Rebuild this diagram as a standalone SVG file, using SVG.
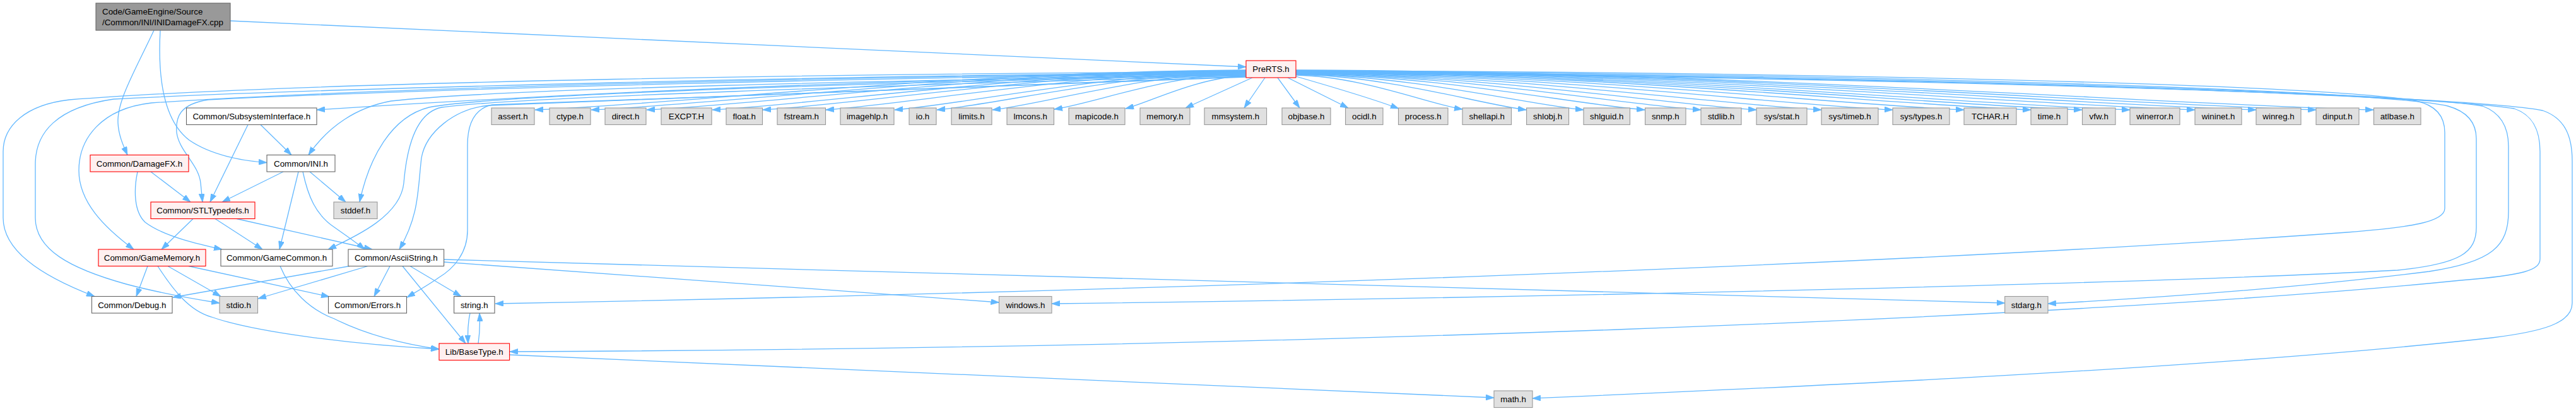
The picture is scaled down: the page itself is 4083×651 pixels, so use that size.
<svg xmlns="http://www.w3.org/2000/svg" width="4083" height="651" viewBox="0 0 4083 651">
<style>
.e{fill:none;stroke:#63B8FF;stroke-width:1.3;marker-end:url(#a)}
rect{stroke-width:1.1}
.w{fill:#FFFFFF;stroke:#666666}
.g{fill:#E0E0E0;stroke:#999999}
.r{fill:#FFF0F0;stroke:#FF0000}
.rt{fill:#999999;stroke:#666666}
text{font-family:"Liberation Sans",Arial,Helvetica,sans-serif;font-size:13.33px;fill:#000;text-anchor:middle}
text.l{text-anchor:start}
</style>
<defs>
<marker id="a" viewBox="0 0 13 9" refX="13" refY="4.5" markerWidth="13" markerHeight="9" markerUnits="userSpaceOnUse" orient="auto">
<path d="M0,0 L13,4.5 L0,9 z" fill="#63B8FF" stroke="#63B8FF" stroke-width="0.8"/>
</marker>
</defs>
<rect width="4083" height="651" fill="#FFFFFF"/>
<g id="edges">
<path class="e" d="M365,33 L1975,106"/>
<path class="e" d="M244,48 C215,110 185,160 187,195 C188,215 196,232 202,245.5"/>
<path class="e" d="M254,48 C250,120 258,190 300,222 C335,246 385,255 423,257.5"/>
<path class="e" d="M393,197.5 L333,320"/>
<path class="e" d="M413,197.5 L462,245.5"/>
<path class="e" d="M449,272 L352,320"/>
<path class="e" d="M473,272 L443,395"/>
<path class="e" d="M480,272 C488,310 500,340 530,360 C550,374 566,385 578,395"/>
<path class="e" d="M491,272 L548,320"/>
<path class="e" d="M239,272 L302,320"/>
<path class="e" d="M218,272 C212,300 212,335 230,352 C260,375 320,388 352,395"/>
<path class="e" d="M306,346.5 L256,395"/>
<path class="e" d="M341,346.5 L416,395"/>
<path class="e" d="M375,346.5 L590,395"/>
<path class="e" d="M234,421.5 L216,469.5"/>
<path class="e" d="M266,421.5 L350,469.5"/>
<path class="e" d="M299,421.5 L522,470"/>
<path class="e" d="M250,421.5 C275,460 300,492 335,502 C400,525 550,545 696,553"/>
<path class="e" d="M444,421.5 C460,460 490,490 530,505 C580,530 640,545 696,553"/>
<path class="e" d="M554,421.5 L274,471"/>
<path class="e" d="M583,421.5 L409,473"/>
<path class="e" d="M618,421.5 L593,469.5"/>
<path class="e" d="M638,421.5 L738,544"/>
<path class="e" d="M650,421.5 L731,469.5"/>
<path class="e" d="M703.6,415 L1583.5,479"/>
<path class="e" d="M703.6,411 L3177.7,480"/>
<path class="e" d="M745,496 C742,510 741,528 742,544"/>
<path class="e" d="M758,544 C760,530 761,512 760,496"/>
<path class="e" d="M807.6,562 L2368,630"/>
<path class="e" d="M1975,114 C1400,116 500,128 110,158 C40,166 5,200 5,240 L5,345 C5,395 60,435 150,469.5"/>
<path class="e" d="M1975,115 C1400,118 500,140 180,157 C90,170 56,210 56,260 L56,345 C56,395 110,425 200,450 C260,466 310,474 348,480"/>
<path class="e" d="M1975,116 C1400,120 600,138 240,163 C160,172 125,220 125,270 C125,320 165,360 212,395"/>
<path class="e" d="M1975,117 C1400,122 700,140 330,158 C285,165 278,185 280,210 C284,240 315,260 318,290 L321,320"/>
<path class="e" d="M1975,118 C1400,125 900,148 502,174"/>
<path class="e" d="M1975,118 C1400,128 800,140 620,160 C565,170 520,200 489,245.5"/>
<path class="e" d="M1975,119 C1400,130 780,150 680,170 C620,185 585,250 570,320"/>
<path class="e" d="M1975,120 C1400,135 800,155 700,170 C660,178 645,230 640,290 C635,340 570,372 520,395"/>
<path class="e" d="M1975,121 C1400,140 900,160 775,167 C720,172 675,210 668,250 C662,300 665,340 633,395"/>
<path class="e" d="M1975,122 C1400,142 900,158 780,166 C752,172 741,195 741,230 L741,365 C741,400 720,425 695,440 C678,452 660,462 645,471"/>
<path class="e" d="M2054,112 C2900,114 3700,135 3830,160 C3862,167 3875,185 3875,210 L3875,330 C3875,352 3820,360 3720,368 C3000,420 1800,462 785,481"/>
<path class="e" d="M2054,113 C2900,116 3750,140 3880,168 C3912,177 3925,195 3925,220 L3925,360 C3925,400 3900,418 3800,428 C3400,450 2400,472 1667,481"/>
<path class="e" d="M2054,114 C2900,118 3800,145 3935,168 C3962,178 3976,200 3976,232 L3976,335 C3976,390 3950,415 3850,430 C3650,455 3450,470 3246,481"/>
<path class="e" d="M2054,115 C3000,120 3850,150 3985,172 C4014,182 4026,205 4026,240 L4026,410 C4026,428 4000,436 3900,444 C3300,505 2000,552 808,557"/>
<path class="e" d="M2054,116 C3000,122 3900,150 4030,175 C4065,187 4077,215 4077,255 L4077,480 C4077,512 4030,525 3950,535 C3500,585 2800,615 2429,631"/>
<path class="e" d="M1975,111 C1524,113 1073,165 848,174"/>
<path class="e" d="M1975,111.5 C1560,113.5 1145,165 937,174"/>
<path class="e" d="M1975,112 C1595,114 1215,165 1025,174"/>
<path class="e" d="M1975,112.5 C1637,114.5 1298,165 1129,174"/>
<path class="e" d="M1975,113 C1669,115 1362,165 1209,174"/>
<path class="e" d="M1975,113.5 C1709,115.5 1442,165 1309,174"/>
<path class="e" d="M1975,114 C1752,116 1529,165 1418,174"/>
<path class="e" d="M1975,114.5 C1779,116.5 1583,165 1485,174"/>
<path class="e" d="M1975,115 C1814,117 1653,165 1573,174"/>
<path class="e" d="M1975,116 C1853,118 1732,164 1671,173"/>
<path class="e" d="M1976,120 C1899,122 1822,162 1784,172"/>
<path class="e" d="M1985,123 L1879,171"/>
<path class="e" d="M2005,123 L1972,171"/>
<path class="e" d="M2025,123 L2060,171"/>
<path class="e" d="M2041,123 L2137,171"/>
<path class="e" d="M2054,121 C2120,140 2180,158 2217,172"/>
<path class="e" d="M2054,119 C2160,121 2265,165 2318,173"/>
<path class="e" d="M2054,118 C2200,120 2346,165 2419,174"/>
<path class="e" d="M2054,117.5 C2236,119.5 2419,165 2510,174"/>
<path class="e" d="M2054,117 C2275,119 2496,165 2607,174"/>
<path class="e" d="M2054,116.5 C2311,118.5 2568,165 2696,174"/>
<path class="e" d="M2054,116 C2346,118 2638,165 2784,174"/>
<path class="e" d="M2054,115.5 C2387,117.5 2720,165 2887,174"/>
<path class="e" d="M2054,115 C2432,117 2811,165 3000,174"/>
<path class="e" d="M2054,114.5 C2478,116.5 2901,165 3113,174"/>
<path class="e" d="M2054,114 C2520,116 2986,165 3219,174"/>
<path class="e" d="M2054,113.5 C2552,115.5 3051,165 3300,174"/>
<path class="e" d="M2054,113 C2583,115 3112,165 3376,174"/>
<path class="e" d="M2054,112.5 C2624,114.5 3194,165 3479,174"/>
<path class="e" d="M2054,112 C2663,114 3272,165 3576,174"/>
<path class="e" d="M2054,111.5 C2701,113.5 3348,165 3671,174"/>
<path class="e" d="M2054,111 C2737,113 3420,165 3762,174"/>
</g>
<g id="n_root"><rect class="rt" x="152" y="5" width="213" height="43"/><text class="l" x="162" y="23">Code/GameEngine/Source</text><text class="l" x="162" y="40">/Common/INI/INIDamageFX.cpp</text></g>
<g id="n_prerts"><rect class="r" x="1975" y="96" width="79" height="27"/><text x="2014.5" y="114">PreRTS.h</text></g>
<g id="n_subsys"><rect class="w" x="295.5" y="171" width="206.5" height="26.5"/><text x="398.75" y="189">Common/SubsystemInterface.h</text></g>
<g id="n_assert"><rect class="g" x="779" y="171" width="68" height="26.5"/><text x="813" y="189">assert.h</text></g>
<g id="n_ctype"><rect class="g" x="871" y="171" width="65" height="26.5"/><text x="903.5" y="189">ctype.h</text></g>
<g id="n_direct"><rect class="g" x="959" y="171" width="65" height="26.5"/><text x="991.5" y="189">direct.h</text></g>
<g id="n_excpt"><rect class="g" x="1048" y="171" width="80" height="26.5"/><text x="1088" y="189">EXCPT.H</text></g>
<g id="n_float"><rect class="g" x="1151" y="171" width="57.5" height="26.5"/><text x="1179.75" y="189">float.h</text></g>
<g id="n_fstream"><rect class="g" x="1232" y="171" width="76.5" height="26.5"/><text x="1270.25" y="189">fstream.h</text></g>
<g id="n_imagehlp"><rect class="g" x="1332" y="171" width="85" height="26.5"/><text x="1374.5" y="189">imagehlp.h</text></g>
<g id="n_io"><rect class="g" x="1441" y="171" width="43" height="26.5"/><text x="1462.5" y="189">io.h</text></g>
<g id="n_limits"><rect class="g" x="1508" y="171" width="64" height="26.5"/><text x="1540" y="189">limits.h</text></g>
<g id="n_lmcons"><rect class="g" x="1596" y="171" width="74.5" height="26.5"/><text x="1633.25" y="189">lmcons.h</text></g>
<g id="n_mapicode"><rect class="g" x="1694" y="171" width="89" height="26.5"/><text x="1738.5" y="189">mapicode.h</text></g>
<g id="n_memory"><rect class="g" x="1807" y="171" width="79" height="26.5"/><text x="1846.5" y="189">memory.h</text></g>
<g id="n_mmsystem"><rect class="g" x="1909" y="171" width="98.6" height="26.5"/><text x="1958.3" y="189">mmsystem.h</text></g>
<g id="n_objbase"><rect class="g" x="2032" y="171" width="77" height="26.5"/><text x="2070.5" y="189">objbase.h</text></g>
<g id="n_ocidl"><rect class="g" x="2132.6" y="171" width="59.4" height="26.5"/><text x="2162.3" y="189">ocidl.h</text></g>
<g id="n_process"><rect class="g" x="2216.5" y="171" width="78.5" height="26.5"/><text x="2255.75" y="189">process.h</text></g>
<g id="n_shellapi"><rect class="g" x="2318" y="171" width="77.5" height="26.5"/><text x="2356.75" y="189">shellapi.h</text></g>
<g id="n_shlobj"><rect class="g" x="2419.6" y="171" width="67" height="26.5"/><text x="2453.1" y="189">shlobj.h</text></g>
<g id="n_shlguid"><rect class="g" x="2510" y="171" width="73.5" height="26.5"/><text x="2546.75" y="189">shlguid.h</text></g>
<g id="n_snmp"><rect class="g" x="2607.6" y="171" width="64.4" height="26.5"/><text x="2639.8" y="189">snmp.h</text></g>
<g id="n_stdlib"><rect class="g" x="2696" y="171" width="64" height="26.5"/><text x="2728" y="189">stdlib.h</text></g>
<g id="n_sysstat"><rect class="g" x="2784" y="171" width="80" height="26.5"/><text x="2824" y="189">sys/stat.h</text></g>
<g id="n_systimeb"><rect class="g" x="2887" y="171" width="90" height="26.5"/><text x="2932" y="189">sys/timeb.h</text></g>
<g id="n_systypes"><rect class="g" x="3000" y="171" width="90" height="26.5"/><text x="3045" y="189">sys/types.h</text></g>
<g id="n_tchar"><rect class="g" x="3113" y="171" width="83" height="26.5"/><text x="3154.5" y="189">TCHAR.H</text></g>
<g id="n_time"><rect class="g" x="3219" y="171" width="58" height="26.5"/><text x="3248" y="189">time.h</text></g>
<g id="n_vfw"><rect class="g" x="3300.5" y="171" width="52.5" height="26.5"/><text x="3326.75" y="189">vfw.h</text></g>
<g id="n_winerror"><rect class="g" x="3376" y="171" width="79" height="26.5"/><text x="3415.5" y="189">winerror.h</text></g>
<g id="n_wininet"><rect class="g" x="3479" y="171" width="74" height="26.5"/><text x="3516" y="189">wininet.h</text></g>
<g id="n_winreg"><rect class="g" x="3576" y="171" width="71" height="26.5"/><text x="3611.5" y="189">winreg.h</text></g>
<g id="n_dinput"><rect class="g" x="3671" y="171" width="68" height="26.5"/><text x="3705" y="189">dinput.h</text></g>
<g id="n_atlbase"><rect class="g" x="3762.5" y="171" width="74.5" height="26.5"/><text x="3799.75" y="189">atlbase.h</text></g>
<g id="n_damagefx"><rect class="r" x="143" y="245.5" width="156" height="26.5"/><text x="221" y="263.5">Common/DamageFX.h</text></g>
<g id="n_ini"><rect class="w" x="423" y="245.5" width="108" height="26.5"/><text x="477" y="263.5">Common/INI.h</text></g>
<g id="n_stl"><rect class="r" x="239" y="320" width="165" height="26.5"/><text x="321.5" y="338">Common/STLTypedefs.h</text></g>
<g id="n_stddef"><rect class="g" x="529" y="320" width="69" height="26.5"/><text x="563.5" y="338">stddef.h</text></g>
<g id="n_gamememory"><rect class="r" x="156" y="395" width="170" height="26.5"/><text x="241" y="413">Common/GameMemory.h</text></g>
<g id="n_gamecommon"><rect class="w" x="350" y="395" width="177" height="26.5"/><text x="438.5" y="413">Common/GameCommon.h</text></g>
<g id="n_ascii"><rect class="w" x="552" y="395" width="151.6" height="26.5"/><text x="627.8" y="413">Common/AsciiString.h</text></g>
<g id="n_debug"><rect class="w" x="145.5" y="469.5" width="127.5" height="26.5"/><text x="209.25" y="487.5">Common/Debug.h</text></g>
<g id="n_stdio"><rect class="g" x="348" y="469.5" width="60.5" height="26.5"/><text x="378.25" y="487.5">stdio.h</text></g>
<g id="n_errors"><rect class="w" x="520.5" y="469.5" width="124" height="26.5"/><text x="582.5" y="487.5">Common/Errors.h</text></g>
<g id="n_string"><rect class="w" x="719.6" y="469.5" width="64.4" height="26.5"/><text x="751.8" y="487.5">string.h</text></g>
<g id="n_windows"><rect class="g" x="1583.5" y="469.5" width="83.5" height="26.5"/><text x="1625.25" y="487.5">windows.h</text></g>
<g id="n_stdarg"><rect class="g" x="3177.7" y="469.5" width="68.3" height="26.5"/><text x="3211.85" y="487.5">stdarg.h</text></g>
<g id="n_basetype"><rect class="r" x="696" y="544" width="111.6" height="26.5"/><text x="751.8" y="562">Lib/BaseType.h</text></g>
<g id="n_math"><rect class="g" x="2368" y="619" width="61" height="26.5"/><text x="2398.5" y="637">math.h</text></g>
</svg>
